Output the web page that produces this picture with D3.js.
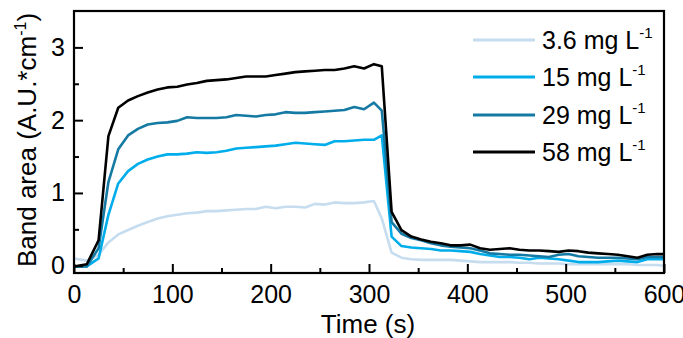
<!DOCTYPE html>
<html>
<head>
<meta charset="utf-8">
<script src="https://cdn.jsdelivr.net/npm/d3@7"></script>
<style>
  html, body { margin: 0; padding: 0; background: #fff; }
  svg { display: block; font-family: "Liberation Sans", Arial, sans-serif; }
</style>
</head>
<body>
<svg id="chart" width="683" height="338"></svg>
<script>
const times = [0, 13, 25, 35, 45, 55, 65, 75, 85, 95, 105, 115, 125, 135, 145, 155, 165, 175, 185, 195,
  205, 215, 225, 235, 245, 255, 265, 275, 285, 295, 305, 313, 323, 333, 343, 353, 363, 373, 383, 393,
  403, 413, 423, 433, 443, 453, 463, 473, 483, 493, 503, 513, 523, 533, 543, 553, 563, 573, 583, 593, 600];

const c36 = [0.10, 0.07, 0.15, 0.32, 0.43, 0.49, 0.55, 0.60, 0.65, 0.68, 0.70, 0.72, 0.73, 0.75, 0.75, 0.76, 0.77, 0.78, 0.78, 0.81,
  0.79, 0.81, 0.81, 0.80, 0.85, 0.84, 0.87, 0.86, 0.86, 0.87, 0.89, 0.65, 0.18, 0.11, 0.09, 0.08, 0.08, 0.08, 0.08, 0.07,
  0.06, 0.05, 0.05, 0.05, 0.05, 0.04, 0.04, 0.03, 0.03, 0.03, 0.02, 0.02, 0.02, 0.02, 0.02, 0.02, 0.02, 0.01, 0.01, 0.01, 0.00];

const c15 = [-0.01, -0.01, 0.10, 0.70, 1.13, 1.30, 1.40, 1.46, 1.50, 1.53, 1.53, 1.54, 1.56, 1.55, 1.56, 1.58, 1.61, 1.62, 1.63, 1.64,
  1.65, 1.67, 1.69, 1.68, 1.67, 1.66, 1.71, 1.71, 1.72, 1.73, 1.73, 1.79, 0.40, 0.27, 0.25, 0.24, 0.23, 0.21, 0.21, 0.20,
  0.19, 0.16, 0.14, 0.12, 0.12, 0.11, 0.09, 0.11, 0.10, 0.09, 0.07, 0.05, 0.05, 0.05, 0.06, 0.07, 0.06, 0.05, 0.09, 0.09, 0.09];

const c29 = [-0.01, -0.01, 0.24, 1.15, 1.60, 1.79, 1.88, 1.94, 1.96, 1.97, 1.99, 2.04, 2.03, 2.03, 2.03, 2.04, 2.07, 2.06, 2.05, 2.07,
  2.08, 2.11, 2.10, 2.10, 2.11, 2.12, 2.13, 2.14, 2.18, 2.15, 2.24, 2.13, 0.60, 0.44, 0.38, 0.35, 0.31, 0.28, 0.26, 0.25,
  0.24, 0.21, 0.17, 0.16, 0.15, 0.15, 0.14, 0.13, 0.12, 0.15, 0.16, 0.13, 0.12, 0.11, 0.11, 0.11, 0.10, 0.09, 0.12, 0.12, 0.12];

const c58 = [-0.01, 0.02, 0.35, 1.78, 2.17, 2.27, 2.33, 2.38, 2.42, 2.45, 2.46, 2.49, 2.51, 2.54, 2.55, 2.56, 2.58, 2.60, 2.60, 2.60,
  2.62, 2.64, 2.66, 2.67, 2.68, 2.69, 2.69, 2.71, 2.74, 2.71, 2.77, 2.74, 0.74, 0.49, 0.40, 0.36, 0.33, 0.31, 0.28, 0.28,
  0.29, 0.24, 0.22, 0.23, 0.24, 0.22, 0.21, 0.21, 0.20, 0.19, 0.21, 0.20, 0.18, 0.17, 0.16, 0.15, 0.13, 0.11, 0.15, 0.16, 0.16];

const seriesNames = ["3.6 mg L", "15 mg L", "29 mg L", "58 mg L"];
const seriesValues = [c36, c15, c29, c58];
const seriesColors = ["#c6dcef", "#00adeb", "#157aa3", "#000000"];

const xTicks = [0, 100, 200, 300, 400, 500, 600];
const xMinor = [50, 150, 250, 350, 450, 550];
const yTicks = [0, 1, 2, 3];
const yMinor = [0.5, 1.5, 2.5];

const svg = d3.select("#chart");
const L = 74, R = 664, T = 11, B = 273;
const x = d3.scaleLinear().domain([0, 600]).range([L, R]);
const y = d3.scaleLinear().domain([-0.1, 3.5]).range([B, T]);

// data lines
const line = d3.line().x(d => x(d[0])).y(d => y(d[1]));
const plot = svg.append("g");
seriesValues.forEach((vals, i) => {
  plot.append("path")
    .datum(times.map((t, j) => [t, vals[j]]))
    .attr("d", line)
    .attr("fill", "none")
    .attr("stroke", seriesColors[i])
    .attr("stroke-width", 2.6)
    .attr("stroke-linejoin", "round");
});

// axes (inward ticks)
const fs = 25;
const xAxis = svg.append("g").attr("transform", `translate(0,${B})`)
  .call(d3.axisBottom(x).tickValues(xTicks).tickFormat(d3.format("d")).tickSizeInner(-9).tickSizeOuter(0).tickPadding(12));
const xAxisMinor = svg.append("g").attr("transform", `translate(0,${B})`)
  .call(d3.axisBottom(x).tickValues(xMinor).tickSizeInner(-5).tickSizeOuter(0).tickFormat(""));
const yAxis = svg.append("g").attr("transform", `translate(${L},0)`)
  .call(d3.axisLeft(y).tickValues(yTicks).tickFormat(d3.format("d")).tickSizeInner(-9).tickSizeOuter(0).tickPadding(9));
const yAxisMinor = svg.append("g").attr("transform", `translate(${L},0)`)
  .call(d3.axisLeft(y).tickValues(yMinor).tickSizeInner(-5).tickSizeOuter(0).tickFormat(""));

[xAxis, xAxisMinor, yAxis, yAxisMinor].forEach(g => {
  g.select(".domain").remove();
  g.selectAll(".tick line").attr("stroke", "#000").attr("stroke-width", 2);
  g.selectAll(".tick text").attr("fill", "#000").style("font-size", fs + "px")
    .style("font-family", "'Liberation Sans', Arial, sans-serif");
});
xAxis.selectAll(".tick text").attr("dy", "0.72em");

// frame
svg.append("rect")
  .attr("x", L).attr("y", T).attr("width", R - L).attr("height", B - T)
  .attr("fill", "none").attr("stroke", "#000").attr("stroke-width", 2.2);

// axis titles
svg.append("text")
  .attr("x", (L + R) / 2 - 1).attr("y", 333)
  .attr("text-anchor", "middle")
  .style("font-size", "26px")
  .text("Time (s)");

const yt = svg.append("text")
  .attr("transform", `translate(36,${(T + B) / 2 - 2}) rotate(-90)`)
  .attr("text-anchor", "middle")
  .style("font-size", "26px");
yt.append("tspan").text("Band area (A.U.*cm");
yt.append("tspan").attr("dy", -10).style("font-size", "16px").text("-1");
yt.append("tspan").attr("dy", 10).text(")");

// legend
const legY = [40, 77, 115, 152];
const leg = svg.append("g");
seriesNames.forEach((name, i) => {
  leg.append("line")
    .attr("x1", 473).attr("x2", 535)
    .attr("y1", legY[i]).attr("y2", legY[i])
    .attr("stroke", seriesColors[i]).attr("stroke-width", 3);
  const t = leg.append("text")
    .attr("x", 542).attr("y", legY[i] + 9)
    .style("font-size", "25px");
  t.append("tspan").text(name);
  t.append("tspan").attr("dy", -11).style("font-size", "15px").text("-1");
});
</script>
</body>
</html>
